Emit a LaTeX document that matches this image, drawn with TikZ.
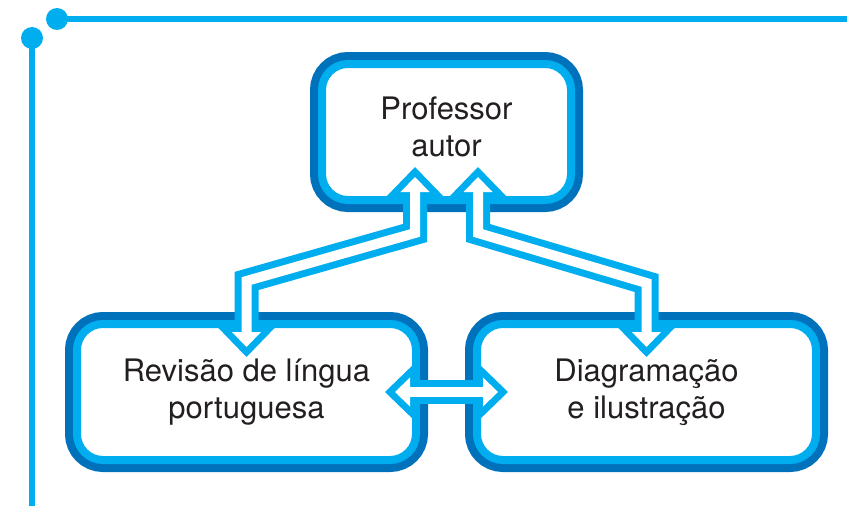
\documentclass[tikz,border=0pt]{standalone}
\usepackage{fontspec}
\setmainfont{TeX Gyre Heros}
\usepackage{tikz}
\usetikzlibrary{arrows.meta,positioning,calc}
\definecolor{cl}{HTML}{00AEEF}
\definecolor{cd}{HTML}{0072BC}
\definecolor{ct}{HTML}{231F20}

\begin{document}
\begin{tikzpicture}[
  x=1pt,y=-1pt,
  box/.style={rectangle,rounded corners=26pt,preaction={draw=cd,line width=24pt},draw=cl,line width=8pt,fill=white,minimum width=339pt,minimum height=136pt,inner sep=0pt,outer sep=0pt,align=center,text=ct,font=\fontsize{31}{37}\selectfont},
  edge/.style={draw=cl,line width=24pt,{Triangle[length=32pt,width=62pt,line width=0pt]}-{Triangle[length=32pt,width=62pt,line width=0pt]}},
  edgein/.style={draw=white,line width=10pt,shorten <=10pt,shorten >=10pt,{Triangle[length=15pt,width=29pt,line width=0pt]}-{Triangle[length=15pt,width=29pt,line width=0pt]}}
]
  \useasboundingbox (0,0) rectangle (847,506);

  % corner mark
  \draw[cl,line width=6pt] (57,19) -- (847,19);
  \draw[cl,line width=6pt] (32,38) -- (32,506);
  \fill[cl] (57,19) circle (11pt);
  \fill[cl] (32,38) circle (11pt);

  % boxes
  \node[box,minimum width=249pt,text depth=11pt] (prof) at (446.5,132) {Professor\\autor};
  \node[box,below=124pt of prof,xshift=-200pt] (rev) {Revisão de língua\\portuguesa};
  \node[box,right=61pt of rev] (diag) {Diagramação\\e ilustração};

  % arrow ends
  \coordinate (pl) at ($(prof.south)+(-31.5,-33)$);
  \coordinate (pr) at ($(prof.south)+(31.5,-33)$);
  \coordinate (rt) at ($(rev.north)+(0,33)$);
  \coordinate (dt) at ($(diag.north)+(0,33)$);
  \coordinate (re) at ($(rev.east)+(-31,0)$);
  \coordinate (dw) at ($(diag.west)+(31,0)$);

  % hollow arrows: outline first, then white inside
  \draw[edge] (rt) -- ++(0,-76) -- ($(pl)+(0,66)$) -- (pl);
  \draw[edge] (pr) -- ++(0,66) -- ($(dt)+(0,-74)$) -- (dt);
  \draw[edge] (re) -- (dw);
  \draw[edgein] (rt) -- ++(0,-76) -- ($(pl)+(0,66)$) -- (pl);
  \draw[edgein] (pr) -- ++(0,66) -- ($(dt)+(0,-74)$) -- (dt);
  \draw[edgein] (re) -- (dw);
\end{tikzpicture}
\end{document}
